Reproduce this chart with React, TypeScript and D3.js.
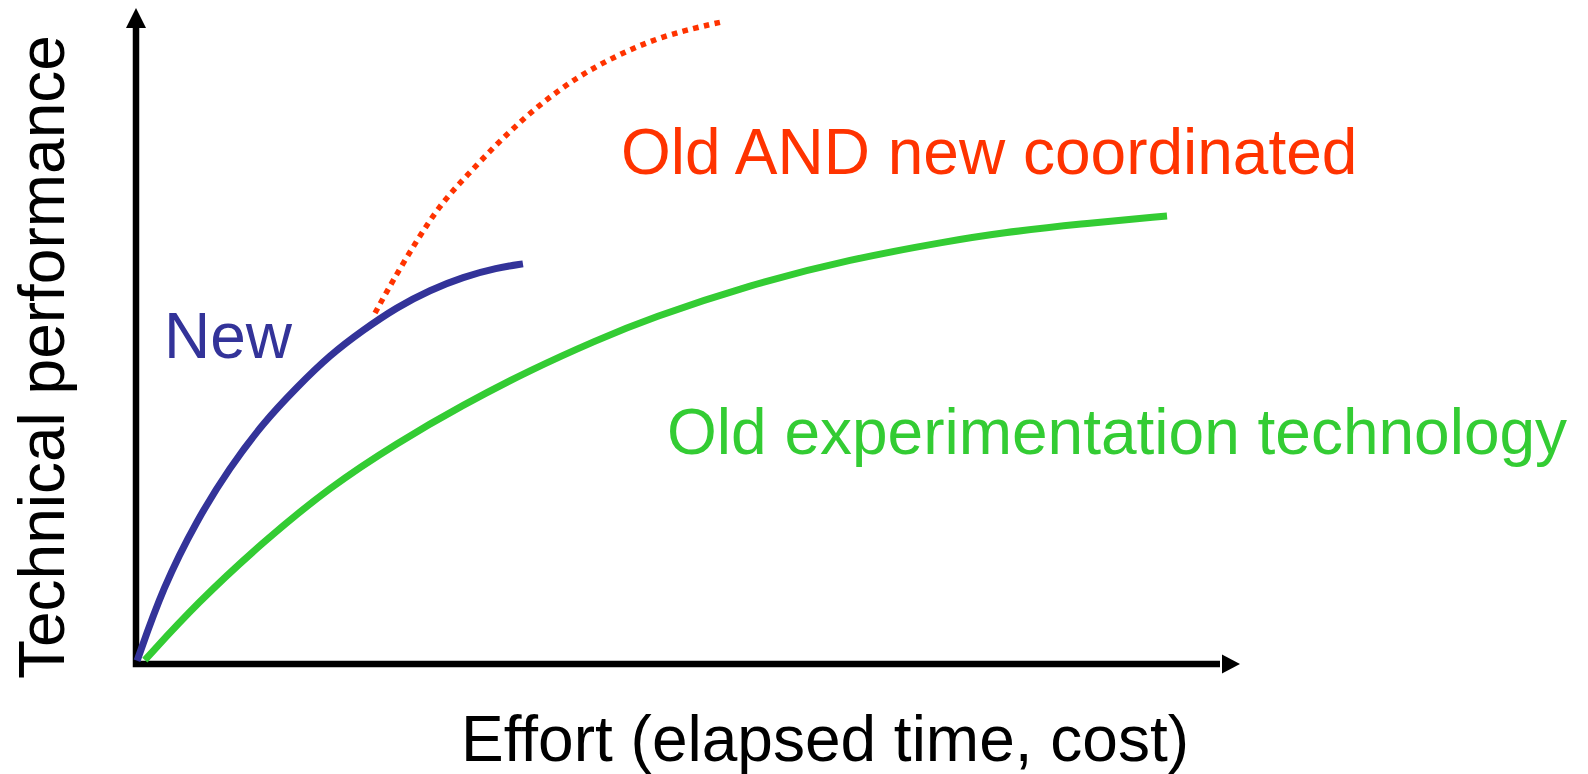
import React from "react";
import * as d3 from "d3";

// Effort (x) and technical performance (y), in arbitrary units 0..10
const newX = [0.01, 0.245, 0.553, 0.851, 1.15, 1.458, 1.757, 2.056, 2.364, 2.663, 2.962, 3.27, 3.505];
const newY = [0.05, 1.17, 2.2, 3.0, 3.67, 4.22, 4.71, 5.09, 5.44, 5.7, 5.9, 6.04, 6.1];

const oldX = [0.08, 0.553, 1.15, 1.757, 2.364, 2.962, 3.569, 4.176, 4.656, 5.562, 6.467, 7.373, 7.826, 8.551, 9.339];
const oldY = [0.06, 0.93, 1.86, 2.7, 3.37, 3.95, 4.48, 4.94, 5.27, 5.78, 6.17, 6.45, 6.57, 6.71, 6.83];

const coordX = [2.165, 2.328, 2.545, 2.754, 2.998, 3.297, 3.632, 3.995, 4.357, 4.746, 5.172, 5.317];
const coordY = [5.35, 5.85, 6.46, 7.0, 7.45, 7.98, 8.5, 8.95, 9.28, 9.56, 9.74, 9.79];

const labelNew = "New";
const labelCoord = "Old AND new coordinated";
const labelOld = "Old experimentation technology";
const xTitle = "Effort (elapsed time, cost)";
const yTitle = "Technical performance";

const W = 1588;
const H = 774;
const FONT = "'Liberation Sans', Arial, Helvetica, sans-serif";

export default function App() {
  const x = d3.scaleLinear().domain([0, 10]).range([136, 1240]);
  const y = d3.scaleLinear().domain([0, 10]).range([664, 8]);

  const line = d3
    .line<[number, number]>()
    .x((d) => x(d[0]))
    .y((d) => y(d[1]))
    .curve(d3.curveBasis);

  const zip = (a: number[], b: number[]) => a.map((v, i) => [v, b[i]] as [number, number]);

  const x0 = x(0);
  const y0 = y(0);
  const xEnd = x(10);
  const yEnd = y(10);
  const head = 18;

  return (
    <svg
      width={W}
      height={H}
      style={{ position: "absolute", left: 0, top: 0, background: "#fff" }}
    >
      <rect x={0} y={0} width={W} height={H} fill="#fff" />
      {/* axes */}
      <path
        d={`M${x0},${yEnd + head + 2} L${x0},${y0} L${xEnd - head - 2},${y0}`}
        fill="none"
        stroke="#000"
        strokeWidth={6.5}
        strokeLinejoin="miter"
      />
      <path d={`M${x0},${yEnd} L${x0 - 10},${yEnd + 20} L${x0 + 10},${yEnd + 20} Z`} fill="#000" />
      <path d={`M${xEnd},${y0} L${xEnd - head},${y0 - 9.5} L${xEnd - head},${y0 + 9.5} Z`} fill="#000" />

      {/* curves */}
      <path d={line(zip(oldX, oldY)) || ""} fill="none" stroke="#33CC33" strokeWidth={7} />
      <path
        d={line(zip(coordX, coordY)) || ""}
        fill="none"
        stroke="#FF3300"
        strokeWidth={5.5}
        strokeDasharray="5.5 5.5"
      />
      <path d={line(zip(newX, newY)) || ""} fill="none" stroke="#333399" strokeWidth={7} />

      {/* labels */}
      <g fontFamily={FONT} fontSize={64}>
        <text x={164} y={358} fill="#333399">{labelNew}</text>
        <text x={621} y={174} fill="#FF3300">{labelCoord}</text>
        <text x={667} y={454} fill="#33CC33">{labelOld}</text>
        <text x={461} y={761} fill="#000">{xTitle}</text>
        <text transform="translate(64,679) rotate(-90)" fill="#000">{yTitle}</text>
      </g>
    </svg>
  );
}
